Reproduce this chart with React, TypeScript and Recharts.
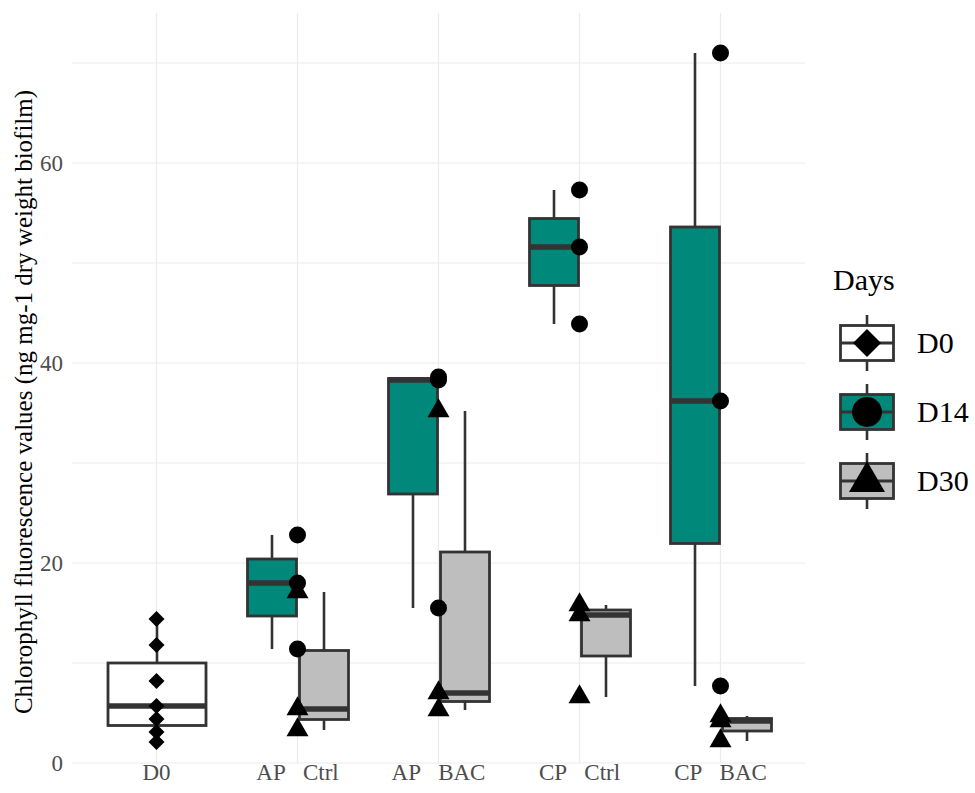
import { ComposedChart, Bar, Scatter, XAxis, YAxis, CartesianGrid, Legend, Label } from "recharts";

const serif = '"Liberation Serif", "Times New Roman", serif';

// groups on the x axis
const categories = ["D0", "AP Ctrl", "AP BAC", "CP Ctrl", "CP BAC"];

// observed values per category, one array per sampling day
const d0Values: number[][] = [[14.4, 11.8, 8.2, 5.7, 4.4, 3.1, 2.1], [], [], [], []];
const d14Values: number[][] = [[], [22.8, 18.0, 11.4], [38.6, 38.3, 15.5], [57.3, 51.6, 43.9], [71.0, 36.2, 7.7]];
const d30Values: number[][] = [[], [17.1, 5.4, 3.3], [35.2, 7.0, 5.3], [15.8, 14.8, 6.6], [4.7, 4.2, 2.2]];

const days = ["D0", "D14", "D30"];
const dayFills = ["#FFFFFF", "#00897B", "#BEBEBE"];
const yTicks = [0, 10, 20, 30, 40, 50, 60, 70];

const yTitle = "Chlorophyll fluorescence values (ng mg-1 dry weight biofilm)";

function quantile(sorted: number[], p: number) {
  const h = (sorted.length - 1) * p;
  const lo = Math.floor(h);
  const hi = Math.min(lo + 1, sorted.length - 1);
  return sorted[lo] + (h - lo) * (sorted[hi] - sorted[lo]);
}

function boxStats(vals: number[]) {
  const s = [...vals].sort((a, b) => a - b);
  const q1 = quantile(s, 0.25);
  const med = quantile(s, 0.5);
  const q3 = quantile(s, 0.75);
  const iqr = q3 - q1;
  const inside = s.filter((v) => v >= q1 - 1.5 * iqr && v <= q3 + 1.5 * iqr);
  return { q1, med, q3, lo: inside[0], hi: inside[inside.length - 1] };
}

const allGroups = [d0Values, d14Values, d30Values];

const rows = categories.map((cat, i) => {
  const groups = allGroups
    .map((g, d) => ({ day: d, vals: g[i] }))
    .filter((g) => g.vals.length > 0);
  const n = groups.length;
  const boxes = groups.map((g, k) => ({
    fill: dayFills[g.day],
    stats: boxStats(g.vals),
    slot: k - (n - 1) / 2,
    single: n === 1,
  }));
  const lo = Math.min(...boxes.map((b) => b.stats.lo));
  const hi = Math.max(...boxes.map((b) => b.stats.hi));
  return { cat, boxes, lo, hi };
});

const pointsFor = (g: number[][]) =>
  categories.flatMap((cat, i) => g[i].map((v) => ({ cat, v })));

const d0Points = pointsFor(d0Values);
const d14Points = pointsFor(d14Values);
const d30Points = pointsFor(d30Values);

const BoxShape = (props: any) => {
  const { x, y, width, height, payload } = props;
  const row = payload;
  const cx = x + width / 2;
  const ppu = height / (row.hi - row.lo);
  const py = (v: number) => y + (row.hi - v) * ppu;
  return (
    <g>
      {row.boxes.map((b: any, i: number) => {
        const w = b.single ? 98 : 49;
        const bc = cx + b.slot * 52;
        const s = b.stats;
        return (
          <g key={i}>
            <line x1={bc} x2={bc} y1={py(s.hi)} y2={py(s.q3)} stroke="#333333" strokeWidth={2.6} />
            <line x1={bc} x2={bc} y1={py(s.q1)} y2={py(s.lo)} stroke="#333333" strokeWidth={2.6} />
            <rect x={bc - w / 2} y={py(s.q3)} width={w} height={py(s.q1) - py(s.q3)} fill={b.fill} stroke="#333333" strokeWidth={2.8} />
            <line x1={bc - w / 2} x2={bc + w / 2} y1={py(s.med)} y2={py(s.med)} stroke="#333333" strokeWidth={5.5} />
          </g>
        );
      })}
    </g>
  );
};

const DiamondDot = (p: any) => (
  <polygon points={`${p.cx},${p.cy - 8} ${p.cx + 8},${p.cy} ${p.cx},${p.cy + 8} ${p.cx - 8},${p.cy}`} fill="#000" />
);
const CircleDot = (p: any) => <circle cx={p.cx} cy={p.cy} r={8.5} fill="#000" />;
const TriangleDot = (p: any) => (
  <polygon points={`${p.cx},${p.cy - 12.7} ${p.cx + 11},${p.cy + 6.35} ${p.cx - 11},${p.cy + 6.35}`} fill="#000" />
);

const XTick = (p: any) => (
  <text x={p.x} y={p.y + 17} textAnchor="middle" style={{ fontFamily: serif, fontSize: 23, fill: "#4D4D4D", whiteSpace: "pre" }}>
    {String(p.payload.value).replace(" ", "\u00A0\u00A0\u00A0")}
  </text>
);

const YTick = (p: any) =>
  p.payload.value % 20 === 0 ? (
    <text x={p.x} y={p.y} textAnchor="end" dominantBaseline="central" style={{ fontFamily: serif, fontSize: 23, fill: "#4D4D4D" }}>
      {p.payload.value}
    </text>
  ) : (
    <g />
  );

const LegendKey = ({ day }: { day: number }) => (
  <svg width={56} height={56}>
    <line x1={28} x2={28} y1={0} y2={56} stroke="#333333" strokeWidth={2.6} />
    <rect x={1.5} y={10.5} width={53} height={35} fill={dayFills[day]} stroke="#333333" strokeWidth={2.8} />
    <line x1={1.5} x2={54.5} y1={28} y2={28} stroke="#333333" strokeWidth={2.8} />
    {day === 0 && <polygon points="28,14 42,28 28,42 14,28" fill="#000" />}
    {day === 1 && <circle cx={28} cy={28} r={15} fill="#000" />}
    {day === 2 && <polygon points="28,8 46,39 10,39" fill="#000" />}
  </svg>
);

const renderLegend = () => (
  <div style={{ color: "#000", fontFamily: serif }}>
    <div style={{ fontSize: 30, lineHeight: "30px", height: 30, marginBottom: 13 }}>Days</div>
    {days.map((d, i) => (
      <div key={d} style={{ display: "flex", alignItems: "center", height: 69, paddingLeft: 6 }}>
        <LegendKey day={i} />
        <span style={{ fontSize: 30, marginLeft: 22 }}>{d}</span>
      </div>
    ))}
  </div>
);

const renderTitle = (props: any) => {
  const vb = props.viewBox;
  const x = vb.x + 23;
  const y = vb.y + vb.height / 2 + 14;
  return (
    <text x={x} y={y} transform={`rotate(-90 ${x} ${y})`} textAnchor="middle" dominantBaseline="central" style={{ fontFamily: serif, fontSize: 25, fill: "#000" }}>
      {yTitle}
    </text>
  );
};

export default function App() {
  return (
    <div style={{ position: "absolute", left: 0, top: 0, width: 975, height: 793, background: "#fff", fontFamily: serif }}>
      <ComposedChart width={975} height={793} data={rows} margin={{ top: 13, right: 170, bottom: 0, left: 0 }}>
        <CartesianGrid stroke="#EBEBEB" strokeWidth={1.2} syncWithTicks />
        <XAxis
          dataKey="cat"
          type="category"
          allowDuplicatedCategory={false}
          padding={{ left: 14, right: 14 }}
          axisLine={false}
          tickLine={false}
          tickSize={0}
          tickMargin={0}
          height={30}
          tick={<XTick />}
        />
        <YAxis
          type="number"
          domain={[0, 75]}
          ticks={yTicks}
          allowDataOverflow
          axisLine={false}
          tickLine={false}
          tickSize={0}
          tickMargin={9}
          width={72}
          tick={<YTick />}
        >
          <Label content={renderTitle} />
        </YAxis>
        <Bar dataKey={(r: any) => [r.lo, r.hi]} barSize={98} shape={BoxShape} isAnimationActive={false} />
        <Scatter data={d0Points} dataKey="v" shape={DiamondDot} isAnimationActive={false} />
        <Scatter data={d14Points} dataKey="v" shape={CircleDot} isAnimationActive={false} />
        <Scatter data={d30Points} dataKey="v" shape={TriangleDot} isAnimationActive={false} />
        <Legend
          layout="horizontal"
          align="center"
          verticalAlign="middle"
          content={renderLegend}
          wrapperStyle={{ left: 833, top: 265, width: 142 }}
        />
      </ComposedChart>
    </div>
  );
}
